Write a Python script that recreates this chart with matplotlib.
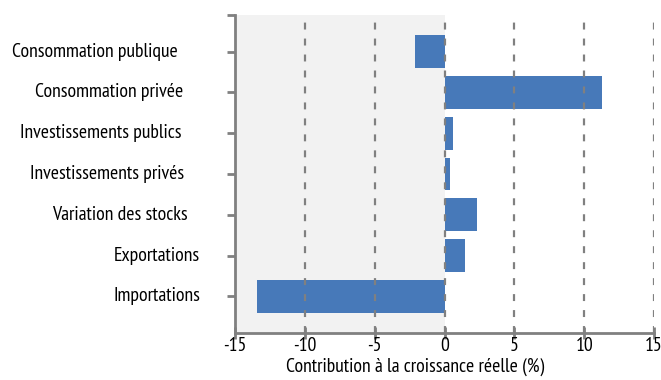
import numpy as np
import matplotlib
matplotlib.use('Agg')
import matplotlib.pyplot as plt

plt.rcParams['font.family'] = ['PT Sans Narrow', 'DejaVu Sans']
plt.rcParams['lines.scale_dashes'] = False

# categories from bottom to top
categories = ['Importations', 'Exportations', 'Variation des stocks',
              'Investissements privés', 'Investissements publics',
              'Consommation privée', 'Consommation publique']
values = [-13.43, 1.5, 2.36, 0.36, 0.64, 11.3, -2.14]
# gap (px) between each label's right edge and the axis, as in the original
label_gap = [35, 35, 47, 51, 53, 52, 57]
xticks = [-15, -10, -5, 0, 5, 10, 15]

grey = '#808080'
blue = '#4779b9'
fs = 14.2

fig = plt.figure(figsize=(6.61, 3.8), dpi=100)
ax = fig.add_axes([0.3555, 0.1237, 0.634, 0.8368])

y = np.arange(len(categories))
ax.axvspan(-15, 0, color='#f2f2f2', zorder=0, lw=0)
ax.barh(y, values, height=0.8, color=blue, zorder=2)
for xt in xticks[1:]:
    ax.axvline(xt, ymax=0.978, color=grey, lw=1.6, dashes=(5, 6.5), zorder=3)

ax.set_xlim(-15, 15)
ax.set_ylim(-0.9, 6.9)
ax.set_xticks(xticks)
ax.set_xticklabels([str(v) for v in xticks], fontsize=fs)
ax.set_yticks(list(y) + [6.9])
ax.set_yticklabels([])
ax.tick_params(axis='y', direction='out', length=6, width=2, color=grey)
ax.tick_params(axis='x', direction='inout', length=8, width=2, color=grey, pad=-1)

for lab, yy, gap in zip(categories, y, label_gap):
    ax.annotate(lab, xy=(0, yy), xycoords=('axes fraction', 'data'),
                xytext=(-gap * 0.72, 0), textcoords='offset points',
                ha='right', va='center', fontsize=fs)

for s in ['top', 'right']:
    ax.spines[s].set_visible(False)
for s in ['left', 'bottom']:
    ax.spines[s].set_color(grey)
    ax.spines[s].set_linewidth(2)

ax.set_xlabel('Contribution à la croissance réelle (%)', fontsize=fs)
ax.xaxis.set_label_coords(0.43, -0.078)

fig.savefig('out.png', dpi=100)
